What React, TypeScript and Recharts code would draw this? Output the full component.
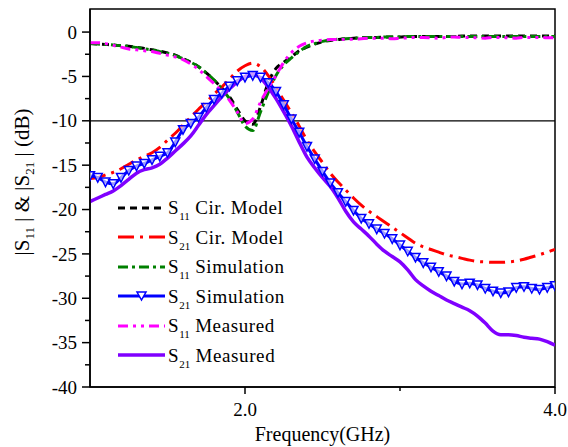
import { Legend, Line, LineChart, ReferenceArea, ReferenceLine, XAxis, YAxis } from "recharts";

const FONT = '"Liberation Serif", "Times New Roman", serif';

const freqGHz = [
  1.0, 1.05, 1.1, 1.15, 1.2, 1.25, 1.3, 1.35, 1.4, 1.45,
  1.5, 1.55, 1.6, 1.65, 1.7, 1.75, 1.8, 1.85, 1.9, 1.95,
  2.0, 2.05, 2.1, 2.15, 2.2, 2.25, 2.3, 2.35, 2.4, 2.45,
  2.5, 2.55, 2.6, 2.65, 2.7, 2.75, 2.8, 2.85, 2.9, 2.95,
  3.0, 3.05, 3.1, 3.15, 3.2, 3.25, 3.3, 3.35, 3.4, 3.45,
  3.5, 3.55, 3.6, 3.65, 3.7, 3.75, 3.8, 3.85, 3.9, 3.95,
  4.0,
];

const s11Model = [
  -1.3, -1.35, -1.4, -1.45, -1.55, -1.6, -1.7, -1.85, -2.0, -2.15,
  -2.35, -2.6, -3.0, -3.4, -3.9, -4.6, -5.4, -6.3, -7.3, -8.7,
  -10.0, -10.4, -8.4, -5.7, -4.1, -3.4, -2.8, -2.1, -1.7, -1.35,
  -1.1, -0.95, -0.85, -0.75, -0.7, -0.65, -0.6, -0.6, -0.55, -0.55,
  -0.55, -0.5, -0.5, -0.5, -0.5, -0.5, -0.5, -0.5, -0.45, -0.45,
  -0.45, -0.45, -0.45, -0.45, -0.45, -0.45, -0.45, -0.45, -0.45, -0.45,
  -0.45,
];

const s21Model = [
  -16.5, -16.4, -16.1, -15.8, -15.4, -14.9, -14.4, -14.0, -13.6, -13.0,
  -12.2, -11.4, -10.5, -9.6, -8.7, -7.9, -7.0, -6.2, -5.3, -4.4,
  -3.8, -3.5, -3.9, -4.9, -6.2, -7.7, -9.1, -10.6, -12.2, -13.5,
  -14.7, -15.9, -16.9, -17.8, -18.7, -19.5, -20.2, -20.8, -21.4, -22.0,
  -22.6, -23.2, -23.8, -24.2, -24.5, -24.8, -25.1, -25.3, -25.5, -25.7,
  -25.85, -25.9, -25.95, -25.95, -25.9, -25.8, -25.6, -25.35, -25.1, -24.8,
  -24.5,
];

const s11Sim = [
  -1.3, -1.35, -1.4, -1.45, -1.55, -1.6, -1.75, -1.9, -2.0, -2.2,
  -2.4, -2.65, -3.0, -3.4, -3.9, -4.6, -5.4, -6.4, -7.5, -9.0,
  -10.6, -11.1, -9.0, -6.8, -4.9, -3.7, -2.9, -2.2, -1.6, -1.3,
  -1.05, -0.9, -0.8, -0.75, -0.7, -0.65, -0.6, -0.6, -0.55, -0.55,
  -0.55, -0.5, -0.5, -0.5, -0.5, -0.5, -0.5, -0.5, -0.5, -0.5,
  -0.5, -0.5, -0.5, -0.5, -0.5, -0.5, -0.5, -0.5, -0.5, -0.5,
  -0.5,
];

const s21Sim = [
  -16.2, -16.4, -16.9, -17.1, -16.4, -15.6, -15.1, -14.8, -14.4, -14.0,
  -13.6, -12.4, -11.0, -10.3, -9.6, -8.5, -7.6, -6.9, -6.1, -5.5,
  -5.1, -4.9, -5.1, -5.7, -6.7, -8.2, -9.8, -11.3, -12.9, -14.3,
  -15.7, -17.0, -18.1, -19.1, -20.1, -21.0, -21.6, -22.2, -22.7, -23.3,
  -24.0, -24.7, -25.4, -26.0, -26.5, -27.0, -27.5, -28.1, -28.4, -28.3,
  -28.5, -28.9, -29.2, -29.4, -29.3, -28.8, -28.7, -28.9, -29.0, -28.8,
  -28.6,
];

const s11Meas = [
  -1.2, -1.2, -1.3, -1.5, -1.7, -1.9, -2.0, -2.1, -2.2, -2.4,
  -2.6, -2.8, -3.1, -3.6, -4.2, -5.0, -5.8, -6.7, -7.7, -9.0,
  -10.3, -9.8, -7.9, -6.3, -4.9, -3.4, -2.3, -1.6, -1.2, -1.0,
  -0.9, -0.85, -0.85, -0.8, -0.8, -0.75, -0.7, -0.7, -0.7, -0.75,
  -0.7, -0.65, -0.6, -0.6, -0.65, -0.7, -0.6, -0.55, -0.6, -0.6,
  -0.65, -0.7, -0.6, -0.6, -0.65, -0.7, -0.6, -0.6, -0.6, -0.65,
  -0.65,
];

const s21Meas = [
  -19.1, -18.7, -18.3, -17.9, -17.3, -16.6, -15.9, -15.5, -15.3, -14.9,
  -14.2, -13.4, -12.6, -11.7, -10.5, -9.3, -8.3, -7.3, -6.4, -5.6,
  -5.0, -4.7, -5.2, -6.2, -7.5, -9.0, -10.6, -12.4, -14.1, -15.3,
  -16.4, -17.4, -18.7, -20.2, -21.4, -22.2, -23.0, -23.9, -24.7, -25.3,
  -25.9, -26.8, -27.9, -28.6, -29.2, -29.7, -30.2, -30.6, -31.0, -31.4,
  -32.0, -32.8, -33.7, -34.1, -34.1, -34.2, -34.4, -34.5, -34.6, -34.9,
  -35.3,
];

const xTicks = [1, 2, 3, 4];
const xLabeled = [2, 4];
const yTicks = [
  0, -2.5, -5, -7.5, -10, -12.5, -15, -17.5, -20, -22.5, -25, -27.5, -30, -32.5, -35, -37.5, -40,
];
const yDomain: [number, number] = [-40, 2.6];

const data = freqGHz.map((f, i) => ({
  f,
  s11Model: s11Model[i],
  s21Model: s21Model[i],
  s11Sim: s11Sim[i],
  s21Sim: s21Sim[i],
  s11Meas: s11Meas[i],
  s21Meas: s21Meas[i],
}));

interface SeriesDef {
  key: string;
  sub: string;
  name: string;
  color: string;
  dash?: string;
  width: number;
  marker?: boolean;
}

const series: SeriesDef[] = [
  { key: "s11Model", sub: "11", name: "Cir. Model", color: "#000000", dash: "7 5", width: 3 },
  { key: "s21Model", sub: "21", name: "Cir. Model", color: "#ff0000", dash: "16 6 3 6", width: 3 },
  { key: "s11Sim", sub: "11", name: "Simulation", color: "#008000", dash: "10 4 3 4", width: 3 },
  { key: "s21Sim", sub: "21", name: "Simulation", color: "#0000ff", width: 3, marker: true },
  { key: "s11Meas", sub: "11", name: "Measured", color: "#ff00ff", dash: "10 5 3 5 3 5", width: 3 },
  { key: "s21Meas", sub: "21", name: "Measured", color: "#8000ff", width: 3.5 },
];

function triangleDot(props: any) {
  const { cx, cy, index } = props;
  if (cx == null || cy == null) return <g key={`tri-${index}`} />;
  return (
    <polygon
      key={`tri-${index}`}
      points={`${cx - 4.5},${cy - 4} ${cx + 4.5},${cy - 4} ${cx},${cy + 4.5}`}
      fill="#ffffff"
      fillOpacity={0.6}
      stroke="#0000ff"
      strokeWidth={1.5}
    />
  );
}

function XTick({ x, y, payload }: any) {
  const v = payload.value as number;
  if (v === xTicks[0]) return <g />;
  const major = xLabeled.includes(v);
  return (
    <g>
      <line x1={x} x2={x} y1={y} y2={y + (major ? 7 : 4)} stroke="#000" strokeWidth={1.5} />
      {major && (
        <text x={x} y={y + 29} textAnchor="middle" fontSize={19} fontFamily={FONT} fill="#000">
          {v.toFixed(1)}
        </text>
      )}
    </g>
  );
}

function YTick({ x, y, payload }: any) {
  const v = payload.value as number;
  const major = v % 5 === 0;
  return (
    <g>
      <line x1={x - (major ? 8 : 5)} x2={x} y1={y} y2={y} stroke="#000" strokeWidth={1.5} />
      {major && (
        <text x={x - 13} y={y} dy="0.35em" textAnchor="end" fontSize={19} fontFamily={FONT} fill="#000">
          {v}
        </text>
      )}
    </g>
  );
}

function YTitle({ viewBox }: any) {
  const cx = viewBox.x + 29;
  const cy = viewBox.y + viewBox.height / 2 - 16;
  return (
    <text
      x={cx}
      y={cy}
      transform={`rotate(-90, ${cx}, ${cy})`}
      textAnchor="middle"
      fontSize={21}
      fontFamily={FONT}
      fill="#000"
    >
      <tspan>|S</tspan>
      <tspan dy={5} fontSize={13}>11</tspan>
      <tspan dy={-5}>{" | & |S"}</tspan>
      <tspan dy={5} fontSize={13}>21</tspan>
      <tspan dy={-5}>{" | (dB)"}</tspan>
    </text>
  );
}

function XTitle({ viewBox }: any) {
  return (
    <text
      x={viewBox.x + viewBox.width / 2}
      y={viewBox.y + 54}
      textAnchor="middle"
      fontSize={20}
      fontFamily={FONT}
      fill="#000"
    >
      Frequency(GHz)
    </text>
  );
}

function SeriesLegend() {
  return (
    <div style={{ fontFamily: FONT, fontSize: 19, color: "#000", lineHeight: 1, letterSpacing: 0.6 }}>
      {series.map((s) => (
        <div key={s.key} style={{ display: "flex", alignItems: "center", height: 29.5 }}>
          <svg width={50} height={14} style={{ flexShrink: 0 }}>
            <line x1={0} x2={47} y1={7} y2={7} stroke={s.color} strokeWidth={s.width} strokeDasharray={s.dash} />
            {s.marker && <polygon points="19,3 28,3 23.5,11" fill="#ffffff" stroke={s.color} strokeWidth={1.5} />}
          </svg>
          <span style={{ whiteSpace: "nowrap" }}>
            S<span style={{ fontSize: 11, position: "relative", top: 6, letterSpacing: 0 }}>{s.sub}</span> {s.name}
          </span>
        </div>
      ))}
    </div>
  );
}

export default function App() {
  return (
    <div style={{ position: "absolute", left: 0, top: 0, width: 568, height: 447, background: "#fff" }}>
      <LineChart width={568} height={447} data={data} margin={{ top: 9, right: 13, left: 0, bottom: 0 }}>
        <XAxis
          dataKey="f"
          type="number"
          domain={[1, 4]}
          ticks={xTicks}
          interval={0}
          height={60}
          tickSize={0}
          tickMargin={0}
          tickLine={false}
          tick={<XTick />}
          axisLine={{ stroke: "#000", strokeWidth: 1.5 }}
          allowDataOverflow
          label={{ content: (p: any) => <XTitle viewBox={p.viewBox} /> }}
        />
        <YAxis
          type="number"
          domain={yDomain}
          ticks={yTicks}
          interval={0}
          width={90}
          tickSize={0}
          tickMargin={0}
          tickLine={false}
          tick={<YTick />}
          axisLine={{ stroke: "#000", strokeWidth: 1.5 }}
          allowDataOverflow
          label={{ content: (p: any) => <YTitle viewBox={p.viewBox} /> }}
        />
        <ReferenceArea
          x1={1}
          x2={4}
          y1={yDomain[0]}
          y2={yDomain[1]}
          fill="none"
          fillOpacity={0}
          stroke="#000"
          strokeWidth={1.5}
        />
        <ReferenceLine y={-10} stroke="#000" strokeWidth={1.2} />
        {series.map((s) => (
          <Line
            key={s.key}
            dataKey={s.key}
            type="monotone"
            stroke={s.color}
            strokeWidth={s.width}
            strokeDasharray={s.dash}
            dot={s.marker ? triangleDot : false}
            activeDot={false}
            isAnimationActive={false}
          />
        ))}
        <Legend
          layout="horizontal"
          verticalAlign="middle"
          align="center"
          wrapperStyle={{ left: 118, top: 193, width: 240 }}
          content={() => <SeriesLegend />}
        />
      </LineChart>
    </div>
  );
}
